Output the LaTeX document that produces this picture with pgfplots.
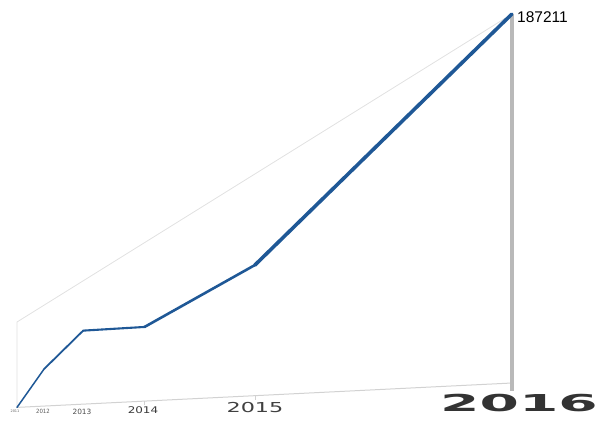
\documentclass[border=0pt]{standalone}
\usepackage{pgfplots}
\pgfplotsset{compat=1.18}
\usepackage{pgfplotstable}
\usepackage{fontspec}
\setmainfont{DejaVu Sans}
\newfontfamily\arialfont{Liberation Sans}
\definecolor{lineblue}{RGB}{31,88,150}
\definecolor{edgegray}{RGB}{225,225,225}
\definecolor{basegray}{RGB}{210,210,210}
\definecolor{frontgray}{RGB}{185,185,185}
\pgfplotstableread{
year value
2011 0
2012 68700
2013 111600
2014 87600
2015 110300
2016 187211
}\datatable
% perspective projection of an evenly spaced chart
\newcommand{\ptt}{(\thisrow{year}-2011)}
\newcommand{\px}{(17+20.3*\ptt)/(1-0.1537*\ptt)}
\newcommand{\py}{(407.4-63.75*\ptt-85.4*\thisrow{value}/187211)/(1-0.1537*\ptt)}
\begin{document}
\begin{tikzpicture}
\begin{axis}[
  scale only axis, width=605pt, height=425pt,
  xmin=0, xmax=605, ymin=0, ymax=425, y dir=reverse,
  hide axis, clip=false,
]
\path (axis cs:0,0) rectangle (axis cs:605,425);
% plane edges
\draw[edgegray, line width=0.8pt] (axis cs:17,407.4) -- (axis cs:17,322) -- (axis cs:512,14);
\draw[basegray, line width=1pt] (axis cs:17,407.4) -- (axis cs:512,383);
\draw[basegray, line width=0.8pt] (axis cs:144,401) -- (axis cs:144,405);
\draw[basegray, line width=0.8pt] (axis cs:255,395.5) -- (axis cs:255,400);
\draw[frontgray, line width=3.5pt] (axis cs:512,14) -- (axis cs:512,391);
% data line, segment by segment (getting thicker toward the viewer)
\addplot[lineblue, line width=1.5pt, line cap=round, skip coords between index={2}{6}]
  table[x expr={\px}, y expr={\py}] {\datatable};
\addplot[lineblue, line width=1.8pt, line cap=round, skip coords between index={0}{1}, skip coords between index={3}{6}]
  table[x expr={\px}, y expr={\py}] {\datatable};
\addplot[lineblue, line width=2.1pt, line cap=round, skip coords between index={0}{2}, skip coords between index={4}{6}]
  table[x expr={\px}, y expr={\py}] {\datatable};
\addplot[lineblue, line width=2.6pt, line cap=round, skip coords between index={0}{3}, skip coords between index={5}{6}]
  table[x expr={\px}, y expr={\py}] {\datatable};
\addplot[lineblue, line width=3.6pt, line cap=round, skip coords between index={0}{4}]
  table[x expr={\px}, y expr={\py}] {\datatable};
% labels
\node[anchor=west, inner sep=0pt, font=\arialfont\fontsize{15.5}{16}\selectfont] at (axis cs:517,17) {187211};
\node[inner sep=0pt, text=black!60, font=\fontsize{3.5}{4}\selectfont] at (axis cs:15,411) {2011};
\node[inner sep=0pt, text=black!65, font=\fontsize{5.8}{6}\selectfont, xscale=0.93] at (axis cs:43,411) {2012};
\node[inner sep=0pt, text=black!70, font=\fontsize{7.2}{8}\selectfont, xscale=1.03] at (axis cs:82,411.5) {2013};
\node[inner sep=0pt, text=black!78, font=\fontsize{9.2}{10}\selectfont, xscale=1.3] at (axis cs:143,410) {2014};
\node[inner sep=0pt, text=black!75, font=\fontsize{13.7}{14}\selectfont, xscale=1.63] at (axis cs:255,408) {2015};
\node[inner sep=0pt, text=black!80, font=\bfseries\fontsize{23.3}{24}\selectfont, xscale=2.43] at (axis cs:519,403) {2016};
\end{axis}
\end{tikzpicture}
\end{document}
